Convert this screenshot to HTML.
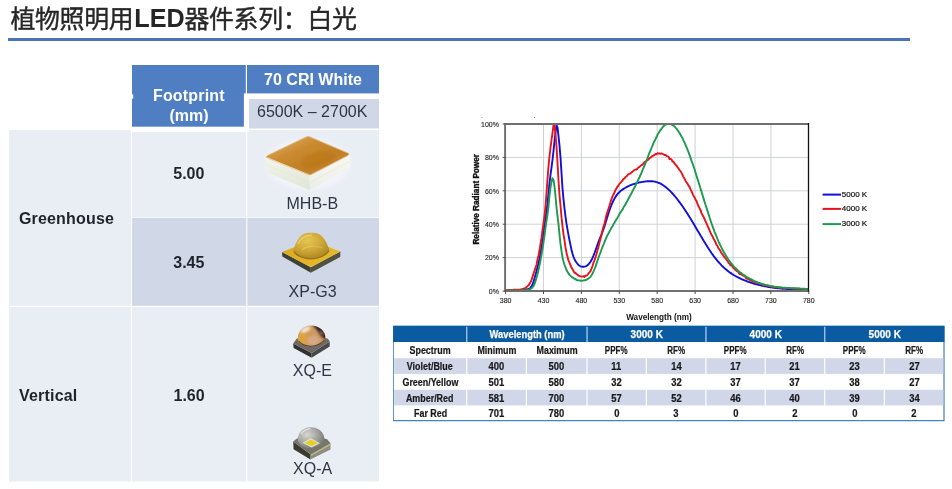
<!DOCTYPE html>
<html><head><meta charset="utf-8"><title>slide</title>
<style>
html,body{margin:0;padding:0;background:#fff;}
body{width:952px;height:489px;position:relative;overflow:hidden;font-family:"Liberation Sans",sans-serif;}
.abs{position:absolute;}
.led{font-weight:bold;font-size:25.2px;line-height:1;color:#262626;white-space:nowrap;}
.t{position:absolute;white-space:nowrap;font-size:16px;line-height:1;}
.b{font-weight:bold;}
.ls{letter-spacing:0.19px;}
.w{color:#fff;}
.k{color:#1f232c;}
.g{color:#2f3643;}
.dc{text-align:center;white-space:nowrap;font-weight:bold;}
.dc span{display:inline-block;transform-origin:50% 50%;}
.dh{color:#fff;font-size:11px;-webkit-text-stroke:0.25px #fff;}

.db{color:#1a1a1a;font-size:10px;-webkit-text-stroke:0.22px #1a1a1a;}

#wrap{position:absolute;left:0;top:0;width:952px;height:489px;will-change:transform;}
</style></head><body><div id="wrap">
<svg class="abs" style="left:0;top:0" width="952" height="50" viewBox="0 0 952 50"><g fill="#262626" stroke="#262626" stroke-width="0.4" stroke-linejoin="round" font-family="'Liberation Sans', 'Noto Sans CJK SC', sans-serif" font-size="24.9"><text x="10.4" y="28" textLength="123.25" lengthAdjust="spacing">植物照明用</text><text x="184.4" y="28" textLength="172.55" lengthAdjust="spacing">器件系列：白光</text></g></svg>
<div class="abs led" style="left:134.3px;top:6.3px;">LED</div>
<div class="abs" style="left:8px;top:38px;width:902px;height:3px;background:#4a75b8"></div>
<svg class="abs" style="left:0;top:0" width="400" height="489" viewBox="0 0 400 489"><rect x="132" y="65" width="111.90" height="61.70" fill="#4f7fc2"/><rect x="132" y="65" width="113.80" height="28.40" fill="#4f7fc2"/><rect x="247" y="65" width="132.00" height="28.40" fill="#4f7fc2"/><rect x="249.1" y="99" width="129.90" height="29.50" fill="#d0d8e8"/><rect x="9" y="130.1" width="121.90" height="175.70" fill="#e9edf4"/><rect x="132.1" y="132.0" width="114.10" height="85.00" fill="#e9edf4"/><rect x="247.3" y="130.1" width="131.70" height="86.90" fill="#e9edf4"/><rect x="247.2" y="130.0" width="1.80" height="2.00" fill="#fff"/><rect x="132.1" y="217.8" width="114.10" height="88.00" fill="#d0d8e8"/><rect x="247.3" y="217.8" width="131.70" height="88.00" fill="#d0d8e8"/><rect x="9" y="307.1" width="121.90" height="174.40" fill="#e9edf4"/><rect x="132.1" y="307.1" width="114.10" height="174.40" fill="#e9edf4"/><rect x="247.3" y="307.1" width="131.70" height="174.40" fill="#e9edf4"/><rect x="131.5" y="94.4" width="1.70" height="4.30" fill="#fff"/></svg>
<div class="t b w ls" style="left:188.9px;top:88px;transform:translateX(-50%)">Footprint</div><div class="t b w" style="left:189.0px;top:108px;transform:translateX(-50%)">(mm)</div><div class="t b w" style="left:313.0px;top:72px;transform:translateX(-50%)">70 CRI White</div><div class="t g" style="left:312.2px;top:104px;transform:translateX(-50%)">6500K – 2700K</div><div class="t b k ls" style="left:18.9px;top:211px">Greenhouse</div><div class="t b k ls" style="left:19.0px;top:388px">Vertical</div><div class="t b k" style="left:188.8px;top:166px;transform:translateX(-50%)">5.00</div><div class="t b k" style="left:188.8px;top:255px;transform:translateX(-50%)">3.45</div><div class="t b k" style="left:189.1px;top:388px;transform:translateX(-50%)">1.60</div><div class="t g" style="left:312.3px;top:196px;transform:translateX(-50%)">MHB-B</div><div class="t g" style="left:312.6px;top:284px;transform:translateX(-50%)">XP-G3</div><div class="t g" style="left:312.4px;top:363px;transform:translateX(-50%)">XQ-E</div><div class="t g" style="left:312.6px;top:461px;transform:translateX(-50%)">XQ-A</div>
<svg class="abs" style="left:247px;top:130px" width="132" height="352" viewBox="247 130 132 352">
<defs>
<filter id="bl" x="-10%" y="-10%" width="120%" height="120%"><feGaussianBlur stdDeviation="0.5"/></filter>
<filter id="bl1" x="-30%" y="-30%" width="160%" height="160%"><feGaussianBlur stdDeviation="0.9"/></filter>
<filter id="bl2" x="-30%" y="-30%" width="160%" height="160%"><feGaussianBlur stdDeviation="3"/></filter>
<linearGradient id="mtop" x1="0.1" y1="0.1" x2="0.9" y2="0.9"><stop offset="0" stop-color="#dcab62"/><stop offset="0.35" stop-color="#ca8a30"/><stop offset="0.7" stop-color="#c07e24"/><stop offset="1" stop-color="#cc9240"/></linearGradient>
<linearGradient id="mleft" x1="0" y1="0" x2="0.2" y2="1"><stop offset="0" stop-color="#f3f5ec"/><stop offset="1" stop-color="#e2e8d8"/></linearGradient>
<linearGradient id="mright" x1="0" y1="0" x2="0" y2="1"><stop offset="0" stop-color="#f7f8f3"/><stop offset="1" stop-color="#ecefe6"/></linearGradient>
<radialGradient id="xpd" cx="0.4" cy="0.3" r="0.8"><stop offset="0" stop-color="#e4c654"/><stop offset="0.5" stop-color="#cfa634"/><stop offset="1" stop-color="#a27e22"/></radialGradient>
<linearGradient id="xpb" x1="0" y1="0" x2="1" y2="0.6"><stop offset="0" stop-color="#d9a520"/><stop offset="1" stop-color="#e9ba2c"/></linearGradient>
<radialGradient id="xqe" cx="0.28" cy="0.5" r="0.8"><stop offset="0" stop-color="#dba348"/><stop offset="0.4" stop-color="#cd9c72"/><stop offset="0.7" stop-color="#94705c"/><stop offset="1" stop-color="#3e2c2c"/></radialGradient>
<radialGradient id="xqa" cx="0.35" cy="0.35" r="0.8"><stop offset="0" stop-color="#d6d6d3"/><stop offset="0.5" stop-color="#a3a39f"/><stop offset="1" stop-color="#686862"/></radialGradient>
</defs>
<!-- MHB-B -->
<ellipse cx="308" cy="164" rx="42" ry="26" fill="#fff" opacity="0.38" filter="url(#bl2)"/>
<g filter="url(#bl)">
<path d="M266,157.5 L309.5,175.2 L310.2,189.9 Q309,190.2 307,189 L267.6,172.8 Q266.6,172.3 266.5,171Z" fill="url(#mleft)"/>
<path d="M309.5,175.2 L349.7,154.4 L350,166 Q350,167.2 349,167.8 L310.2,189.9Z" fill="url(#mright)"/>
<path d="M266.6,165 L309.8,182.6 L349.8,161.2" fill="none" stroke="#dde3d3" stroke-width="0.8" opacity="0.6"/>
<path d="M306.5,136.8 Q308,136 309.6,136.7 L347.6,152.9 Q350.4,154.1 347.8,155.6 L311.4,174.4 Q309.5,175.3 307.6,174.5 L267.8,158.1 Q264.8,156.8 267.6,155.4Z" fill="url(#mtop)" stroke="#e2bb86" stroke-width="0.9" stroke-linejoin="round"/>
<ellipse cx="318" cy="160" rx="17" ry="8" transform="rotate(-14 318 160)" fill="#b87418" opacity="0.45" filter="url(#bl1)"/>
<path d="M267.5,157.8 L308.5,174.6" fill="none" stroke="#efd9b8" stroke-width="1" opacity="0.85"/>
</g>
<!-- XP-G3 -->
<g filter="url(#bl)">
<polygon points="282,252 310.8,267.2 310.8,272.8 282.3,256.5" fill="#3e4234"/>
<polygon points="310.8,267.2 340.4,251.4 340.2,257 310.8,272.8" fill="#50533f"/>
<polygon points="282,252 312,240.5 340.4,251.4 310.8,267.2" fill="url(#xpb)"/>
<path d="M293.2,251.5 C295,244 299,233.4 308,232.8 L314.5,232.8 C323,233.4 327.5,244 329.4,250.3 C326,256 318,259 312,258.8 C304,258.8 296,256 293.2,251.5Z" fill="url(#xpd)"/>
<path d="M294.0,252.0 C298,257 306,259 312,258.8 C319,258.8 326,255.4 328.9,250.8" fill="none" stroke="#8a6a1a" stroke-width="1.3" opacity="0.8"/>
<path d="M298,244 C300,238 306,235 312,235.2" fill="none" stroke="#f0dc8c" stroke-width="1.4" opacity="0.6"/>
<path d="M302,250 C306,246 316,245 322,248" fill="none" stroke="#ecd680" stroke-width="1.2" opacity="0.45"/>
</g>
<!-- XQ-E -->
<g filter="url(#bl)">
<polygon points="293.2,343.6 311.6,353.1 311.6,357.8 293.6,347.9" fill="#333232"/>
<polygon points="311.6,353.1 329.7,341.5 329.7,346.6 311.6,357.8" fill="#4a4948"/>
<polygon points="293.2,343.6 296.6,338.8 311,334 328,338.8 329.7,341.5 311.6,353.1" fill="#6e6964"/>
<clipPath id="xqec"><path d="M297.9,340.5 C297,332 303,325.6 310.8,325.6 C319,325.6 326,331 325.4,339 C323,344 317,346.8 311,346.6 C305,346.6 299.5,344.5 297.9,340.5Z"/></clipPath>
<path d="M297.9,340.5 C297,332 303,325.6 310.8,325.6 C319,325.6 326,331 325.4,339 C323,344 317,346.8 311,346.6 C305,346.6 299.5,344.5 297.9,340.5Z" fill="#cf9a60"/>
<g clip-path="url(#xqec)">
<ellipse cx="302.5" cy="338" rx="5" ry="6" fill="#dea23c" filter="url(#bl1)"/>
<ellipse cx="313" cy="340.5" rx="6" ry="4.5" fill="#d6a888" filter="url(#bl1)"/>
<path d="M312,324 L328,326 L328,341 C324,338.5 321,337 319.5,334 C318,331 315,328.5 312,324Z" fill="#3a2828" filter="url(#bl1)"/>
<ellipse cx="305.5" cy="329.5" rx="5.2" ry="2.6" transform="rotate(-28 305.5 329.5)" fill="#efe4cf" filter="url(#bl1)"/>
<path d="M320,331.5 L323,334.5" stroke="#b89a8c" stroke-width="1.2" filter="url(#bl1)"/>
</g>
<path d="M298.6,341.2 C302,345 307,346.3 311,346.2 C316,346.2 321,344 324.4,340.2" fill="none" stroke="#33282a" stroke-width="1.1" opacity="0.75"/>
</g>
<!-- XQ-A -->
<g filter="url(#bl)">
<polygon points="293.2,441.5 310.8,454.4 310.4,459.5 293.6,449.2" fill="#3a3a30"/>
<polygon points="310.8,454.4 330.5,443.2 330.5,449.6 310.4,459.5" fill="#8d8d85"/>
<polygon points="310.8,454.4 330.5,443.2 330.5,444.9 310.8,456.1" fill="#c4bd72"/>
<polygon points="293.2,441.5 297,438.6 311,435 327.1,439.2 330.5,443.2 310.8,454.4" fill="#74746e"/>
<path d="M297.9,441 C297,433.5 303,427.3 310.8,427.3 C319,427.3 325,433 324.5,440.5 C322,445.5 316.5,448.6 311,448.4 C305,448.4 299.5,445.5 297.9,441Z" fill="url(#xqa)"/>
<polygon points="302.5,442.8 310.8,438.3 320,443.2 311.6,447.4" fill="#ecece4" opacity="0.85"/>
<polygon points="304.4,442.8 310.8,439.6 318,443.2 311.6,446" fill="#e6cf22"/>
<path d="M301,434 C303.5,430.5 307,428.8 310.5,428.6" fill="none" stroke="#ececea" stroke-width="1.3" opacity="0.8"/>
</g>
</svg>
<svg class="abs" style="left:0;top:0" width="952" height="330" viewBox="0 0 952 330"><line x1="543.5" y1="124.0" x2="543.5" y2="291.0" stroke="#cbcdd3" stroke-width="0.9"/><line x1="581.4" y1="124.0" x2="581.4" y2="291.0" stroke="#cbcdd3" stroke-width="0.9"/><line x1="619.3" y1="124.0" x2="619.3" y2="291.0" stroke="#cbcdd3" stroke-width="0.9"/><line x1="657.2" y1="124.0" x2="657.2" y2="291.0" stroke="#cbcdd3" stroke-width="0.9"/><line x1="695.1" y1="124.0" x2="695.1" y2="291.0" stroke="#cbcdd3" stroke-width="0.9"/><line x1="733.0" y1="124.0" x2="733.0" y2="291.0" stroke="#cbcdd3" stroke-width="0.9"/><line x1="770.9" y1="124.0" x2="770.9" y2="291.0" stroke="#cbcdd3" stroke-width="0.9"/><line x1="505.6" y1="257.6" x2="808.8" y2="257.6" stroke="#cbcdd3" stroke-width="0.9"/><line x1="505.6" y1="224.2" x2="808.8" y2="224.2" stroke="#cbcdd3" stroke-width="0.9"/><line x1="505.6" y1="190.8" x2="808.8" y2="190.8" stroke="#cbcdd3" stroke-width="0.9"/><line x1="505.6" y1="157.4" x2="808.8" y2="157.4" stroke="#cbcdd3" stroke-width="0.9"/><clipPath id="pc"><rect x="505.6" y="123.0" width="303.19999999999993" height="169.0"/></clipPath><g clip-path="url(#pc)" fill="none" stroke-width="1.9" stroke-linejoin="round" stroke-linecap="round"><path d="M505.5,290.3 L506.5,290.3 L507.5,290.3 L508.5,290.3 L509.5,290.3 L510.5,290.3 L511.5,290.3 L512.5,290.2 L513.5,290.2 L514.5,290.2 L515.5,290.2 L516.5,290.2 L517.5,290.2 L518.5,290.1 L519.5,290.1 L520.5,290.1 L521.5,290.0 L522.5,290.0 L523.5,289.9 L524.5,289.8 L525.5,289.7 L526.5,289.5 L527.5,289.3 L528.5,289.0 L529.5,288.5 L530.5,287.6 L531.5,286.2 L532.5,284.6 L533.5,281.9 L534.5,278.5 L535.5,274.8 L536.5,271.2 L537.5,267.3 L538.5,263.1 L539.5,258.5 L540.5,253.3 L541.5,247.5 L542.5,241.0 L543.5,233.2 L544.5,225.0 L545.5,218.5 L546.5,212.2 L547.5,203.7 L548.5,193.0 L549.5,183.0 L550.5,174.9 L551.5,167.5 L552.5,159.9 L553.5,150.9 L554.5,141.3 L555.5,132.6 L556.5,125.2 L557.5,127.4 L558.5,136.1 L559.5,145.7 L560.5,157.4 L561.5,172.8 L562.5,188.5 L563.5,199.4 L564.5,208.3 L565.5,216.5 L566.5,223.7 L567.5,229.7 L568.5,235.2 L569.5,240.2 L570.5,245.1 L571.5,249.8 L572.5,253.7 L573.5,256.8 L574.5,259.1 L575.5,261.0 L576.5,262.5 L577.5,263.8 L578.5,264.9 L579.5,265.7 L580.5,266.3 L581.5,266.6 L582.5,266.8 L583.5,266.8 L584.5,266.6 L585.5,266.3 L586.5,265.9 L587.5,265.2 L588.5,264.3 L589.5,263.2 L590.5,261.7 L591.5,260.0 L592.5,258.0 L593.5,255.7 L594.5,253.1 L595.5,250.3 L596.5,247.5 L597.5,244.6 L598.5,241.9 L599.5,239.3 L600.5,236.8 L601.5,234.4 L602.5,231.8 L603.5,229.1 L604.5,226.1 L605.5,222.9 L606.5,219.7 L607.5,216.4 L608.5,213.3 L609.5,210.3 L610.5,207.5 L611.5,204.9 L612.5,202.6 L613.5,200.5 L614.5,198.6 L615.5,196.9 L616.5,195.4 L617.5,194.1 L618.5,193.0 L619.5,192.0 L620.5,191.1 L621.5,190.3 L622.5,189.6 L623.5,188.9 L624.5,188.3 L625.5,187.7 L626.5,187.1 L627.5,186.6 L628.5,186.1 L629.5,185.7 L630.5,185.2 L631.5,184.8 L632.5,184.4 L633.5,184.1 L634.5,183.8 L635.5,183.5 L636.5,183.2 L637.5,182.9 L638.5,182.7 L639.5,182.4 L640.5,182.2 L641.5,182.1 L642.5,181.9 L643.5,181.7 L644.5,181.6 L645.5,181.5 L646.5,181.4 L647.5,181.3 L648.5,181.2 L649.5,181.2 L650.5,181.2 L651.5,181.2 L652.5,181.3 L653.5,181.4 L654.5,181.6 L655.5,181.8 L656.5,182.1 L657.5,182.4 L658.5,182.8 L659.5,183.2 L660.5,183.7 L661.5,184.2 L662.5,184.8 L663.5,185.5 L664.5,186.2 L665.5,186.9 L666.5,187.7 L667.5,188.6 L668.5,189.5 L669.5,190.4 L670.5,191.4 L671.5,192.4 L672.5,193.5 L673.5,194.6 L674.5,195.8 L675.5,197.0 L676.5,198.2 L677.5,199.5 L678.5,200.8 L679.5,202.1 L680.5,203.5 L681.5,204.9 L682.5,206.3 L683.5,207.7 L684.5,209.2 L685.5,210.7 L686.5,212.3 L687.5,213.8 L688.5,215.4 L689.5,217.0 L690.5,218.6 L691.5,220.3 L692.5,221.9 L693.5,223.6 L694.5,225.3 L695.5,227.0 L696.5,228.7 L697.5,230.4 L698.5,232.1 L699.5,233.7 L700.5,235.4 L701.5,237.1 L702.5,238.8 L703.5,240.5 L704.5,242.1 L705.5,243.7 L706.5,245.3 L707.5,246.9 L708.5,248.5 L709.5,250.0 L710.5,251.5 L711.5,253.0 L712.5,254.4 L713.5,255.8 L714.5,257.1 L715.5,258.4 L716.5,259.7 L717.5,260.9 L718.5,262.0 L719.5,263.1 L720.5,264.2 L721.5,265.3 L722.5,266.3 L723.5,267.2 L724.5,268.1 L725.5,269.0 L726.5,269.8 L727.5,270.7 L728.5,271.4 L729.5,272.2 L730.5,272.9 L731.5,273.6 L732.5,274.2 L733.5,274.9 L734.5,275.5 L735.5,276.0 L736.5,276.6 L737.5,277.1 L738.5,277.6 L739.5,278.1 L740.5,278.6 L741.5,279.1 L742.5,279.5 L743.5,279.9 L744.5,280.3 L745.5,280.7 L746.5,281.1 L747.5,281.5 L748.5,281.8 L749.5,282.2 L750.5,282.5 L751.5,282.8 L752.5,283.2 L753.5,283.5 L754.5,283.8 L755.5,284.0 L756.5,284.3 L757.5,284.6 L758.5,284.8 L759.5,285.1 L760.5,285.3 L761.5,285.6 L762.5,285.8 L763.5,286.0 L764.5,286.2 L765.5,286.4 L766.5,286.6 L767.5,286.8 L768.5,287.0 L769.5,287.1 L770.5,287.3 L771.5,287.4 L772.5,287.6 L773.5,287.7 L774.5,287.9 L775.5,288.0 L776.5,288.1 L777.5,288.2 L778.5,288.3 L779.5,288.4 L780.5,288.5 L781.5,288.6 L782.5,288.7 L783.5,288.8 L784.5,288.9 L785.5,288.9 L786.5,289.0 L787.5,289.1 L788.5,289.1 L789.5,289.2 L790.5,289.2 L791.5,289.3 L792.5,289.3 L793.5,289.3 L794.5,289.4 L795.5,289.4 L796.5,289.4 L797.5,289.5 L798.5,289.5 L799.5,289.5 L800.5,289.5 L801.5,289.6 L802.5,289.6 L803.5,289.6 L804.5,289.6 L805.5,289.6 L806.5,289.6 L807.5,289.6 L808.5,289.6" stroke="#1010d8"/><path d="M505.5,290.0 L506.5,290.0 L507.5,290.0 L508.5,290.0 L509.5,289.9 L510.5,289.9 L511.5,289.9 L512.5,289.9 L513.5,289.8 L514.5,289.8 L515.5,289.8 L516.5,289.8 L517.5,289.7 L518.5,289.7 L519.5,289.6 L520.5,289.5 L521.5,289.3 L522.5,289.1 L523.5,288.7 L524.5,288.3 L525.5,287.8 L526.5,287.1 L527.5,286.3 L528.5,285.4 L529.5,283.9 L530.5,282.2 L531.5,280.1 L532.5,276.9 L533.5,273.6 L534.5,270.8 L535.5,267.8 L536.5,264.7 L537.5,259.6 L538.5,255.5 L539.5,250.3 L540.5,243.9 L541.5,237.9 L542.5,230.2 L543.5,223.2 L544.5,215.8 L545.5,206.2 L546.5,193.0 L547.5,179.1 L548.5,166.4 L549.5,156.3 L550.5,147.7 L551.5,140.2 L552.5,133.1 L553.5,124.9 L554.5,125.7 L555.5,134.4 L556.5,146.5 L557.5,162.7 L558.5,180.5 L559.5,195.3 L560.5,205.3 L561.5,217.2 L562.5,226.2 L563.5,234.3 L564.5,240.3 L565.5,247.4 L566.5,252.9 L567.5,256.7 L568.5,260.7 L569.5,262.7 L570.5,265.5 L571.5,267.6 L572.5,269.0 L573.5,271.0 L574.5,272.8 L575.5,272.7 L576.5,274.2 L577.5,274.5 L578.5,275.8 L579.5,275.9 L580.5,276.3 L581.5,276.6 L582.5,276.6 L583.5,276.1 L584.5,276.9 L585.5,275.6 L586.5,275.6 L587.5,275.0 L588.5,273.4 L589.5,272.4 L590.5,271.1 L591.5,268.7 L592.5,266.0 L593.5,262.7 L594.5,260.4 L595.5,257.4 L596.5,254.0 L597.5,250.2 L598.5,246.9 L599.5,242.6 L600.5,238.7 L601.5,234.9 L602.5,230.2 L603.5,226.5 L604.5,223.5 L605.5,219.3 L606.5,214.9 L607.5,211.8 L608.5,208.7 L609.5,205.6 L610.5,202.2 L611.5,199.1 L612.5,196.4 L613.5,194.5 L614.5,192.3 L615.5,190.0 L616.5,188.3 L617.5,186.6 L618.5,185.5 L619.5,183.6 L620.5,182.7 L621.5,181.7 L622.5,180.4 L623.5,178.9 L624.5,178.6 L625.5,177.0 L626.5,176.5 L627.5,175.2 L628.5,174.0 L629.5,173.9 L630.5,173.2 L631.5,172.4 L632.5,171.8 L633.5,170.7 L634.5,170.0 L635.5,169.5 L636.5,169.6 L637.5,168.5 L638.5,167.3 L639.5,167.0 L640.5,165.8 L641.5,165.1 L642.5,164.7 L643.5,163.4 L644.5,162.1 L645.5,161.5 L646.5,160.9 L647.5,160.1 L648.5,159.6 L649.5,158.0 L650.5,157.7 L651.5,156.8 L652.5,155.9 L653.5,155.6 L654.5,154.9 L655.5,154.0 L656.5,154.3 L657.5,153.3 L658.5,153.5 L659.5,153.5 L660.5,153.7 L661.5,153.4 L662.5,153.9 L663.5,154.2 L664.5,155.0 L665.5,154.9 L666.5,155.8 L667.5,156.3 L668.5,156.7 L669.5,159.0 L670.5,158.9 L671.5,159.4 L672.5,161.5 L673.5,161.7 L674.5,163.4 L675.5,164.8 L676.5,165.6 L677.5,167.1 L678.5,168.5 L679.5,170.1 L680.5,171.1 L681.5,172.9 L682.5,174.9 L683.5,177.0 L684.5,178.6 L685.5,180.7 L686.5,182.2 L687.5,183.6 L688.5,185.6 L689.5,186.9 L690.5,189.2 L691.5,191.1 L692.5,193.6 L693.5,195.7 L694.5,197.3 L695.5,199.4 L696.5,201.1 L697.5,203.8 L698.5,206.0 L699.5,208.2 L700.5,209.9 L701.5,213.1 L702.5,215.0 L703.5,216.7 L704.5,218.8 L705.5,221.1 L706.5,223.4 L707.5,225.6 L708.5,228.0 L709.5,230.2 L710.5,232.6 L711.5,234.7 L712.5,236.3 L713.5,238.5 L714.5,240.3 L715.5,242.2 L716.5,244.9 L717.5,245.9 L718.5,248.5 L719.5,249.4 L720.5,251.3 L721.5,253.1 L722.5,254.3 L723.5,255.9 L724.5,257.1 L725.5,258.4 L726.5,259.8 L727.5,260.9 L728.5,262.9 L729.5,263.5 L730.5,265.3 L731.5,264.8 L732.5,266.8 L733.5,268.0 L734.5,268.7 L735.5,270.1 L736.5,270.8 L737.5,271.3 L738.5,272.4 L739.5,274.0 L740.5,273.9 L741.5,274.6 L742.5,275.1 L743.5,275.9 L744.5,276.1 L745.5,277.1 L746.5,278.6 L747.5,278.7 L748.5,279.1 L749.5,279.8 L750.5,280.6 L751.5,280.6 L752.5,281.6 L753.5,281.7 L754.5,281.8 L755.5,282.8 L756.5,281.7 L757.5,282.7 L758.5,283.4 L759.5,283.3 L760.5,283.9 L761.5,284.0 L762.5,284.3 L763.5,285.8 L764.5,285.1 L765.5,285.3 L766.5,285.6 L767.5,285.8 L768.5,286.0 L769.5,286.2 L770.5,286.4 L771.5,286.6 L772.5,286.7 L773.5,286.9 L774.5,287.0 L775.5,287.2 L776.5,287.3 L777.5,287.4 L778.5,287.5 L779.5,287.6 L780.5,287.7 L781.5,287.8 L782.5,287.9 L783.5,288.0 L784.5,288.1 L785.5,288.1 L786.5,288.2 L787.5,288.2 L788.5,288.3 L789.5,288.4 L790.5,288.4 L791.5,288.4 L792.5,288.5 L793.5,288.5 L794.5,288.6 L795.5,288.6 L796.5,288.7 L797.5,288.7 L798.5,288.8 L799.5,288.8 L800.5,288.9 L801.5,288.9 L802.5,289.0 L803.5,289.0 L804.5,289.1 L805.5,289.2 L806.5,289.3 L807.5,289.3 L808.5,289.4" stroke="#e8141c"/><path d="M505.5,290.5 L506.5,290.5 L507.5,290.5 L508.5,290.5 L509.5,290.5 L510.5,290.5 L511.5,290.5 L512.5,290.5 L513.5,290.5 L514.5,290.4 L515.5,290.4 L516.5,290.4 L517.5,290.4 L518.5,290.4 L519.5,290.4 L520.5,290.4 L521.5,290.3 L522.5,290.3 L523.5,290.3 L524.5,290.2 L525.5,290.2 L526.5,290.1 L527.5,289.9 L528.5,289.7 L529.5,289.4 L530.5,289.0 L531.5,288.3 L532.5,287.3 L533.5,286.0 L534.5,284.0 L535.5,281.3 L536.5,277.6 L537.5,274.0 L538.5,269.9 L539.5,265.3 L540.5,260.2 L541.5,254.8 L542.5,249.0 L543.5,242.3 L544.5,235.6 L545.5,227.9 L546.5,220.9 L547.5,214.5 L548.5,206.4 L549.5,195.6 L550.5,187.5 L551.5,181.7 L552.5,178.1 L553.5,180.2 L554.5,186.4 L555.5,196.2 L556.5,207.1 L557.5,215.8 L558.5,224.2 L559.5,234.3 L560.5,243.8 L561.5,251.1 L562.5,257.4 L563.5,261.4 L564.5,264.8 L565.5,267.4 L566.5,270.0 L567.5,271.8 L568.5,273.4 L569.5,274.9 L570.5,275.9 L571.5,276.9 L572.5,277.5 L573.5,277.8 L574.5,278.9 L575.5,279.0 L576.5,280.0 L577.5,280.4 L578.5,280.4 L579.5,280.5 L580.5,280.5 L581.5,280.9 L582.5,280.7 L583.5,280.4 L584.5,280.2 L585.5,280.3 L586.5,279.6 L587.5,279.1 L588.5,278.5 L589.5,277.8 L590.5,276.8 L591.5,275.2 L592.5,273.5 L593.5,271.4 L594.5,269.0 L595.5,266.6 L596.5,263.6 L597.5,260.8 L598.5,257.8 L599.5,255.0 L600.5,252.4 L601.5,249.5 L602.5,246.9 L603.5,244.5 L604.5,242.0 L605.5,239.7 L606.5,237.4 L607.5,235.1 L608.5,233.4 L609.5,231.5 L610.5,229.7 L611.5,227.6 L612.5,226.4 L613.5,224.1 L614.5,222.7 L615.5,220.9 L616.5,219.2 L617.5,217.7 L618.5,215.9 L619.5,213.9 L620.5,212.4 L621.5,211.0 L622.5,209.6 L623.5,207.3 L624.5,205.9 L625.5,204.4 L626.5,202.5 L627.5,200.6 L628.5,198.7 L629.5,196.8 L630.5,195.1 L631.5,193.3 L632.5,191.1 L633.5,189.3 L634.5,187.6 L635.5,185.5 L636.5,183.4 L637.5,181.3 L638.5,179.1 L639.5,177.2 L640.5,175.0 L641.5,172.8 L642.5,170.2 L643.5,167.8 L644.5,165.5 L645.5,163.1 L646.5,160.5 L647.5,158.0 L648.5,155.2 L649.5,152.6 L650.5,150.5 L651.5,148.0 L652.5,145.6 L653.5,143.2 L654.5,140.9 L655.5,139.2 L656.5,137.0 L657.5,134.8 L658.5,133.3 L659.5,131.6 L660.5,130.0 L661.5,128.9 L662.5,127.3 L663.5,126.1 L664.5,125.4 L665.5,124.6 L666.5,124.3 L667.5,124.0 L668.5,123.8 L669.5,123.8 L670.5,124.1 L671.5,124.4 L672.5,125.1 L673.5,125.6 L674.5,126.4 L675.5,127.6 L676.5,128.6 L677.5,130.2 L678.5,131.5 L679.5,133.0 L680.5,134.7 L681.5,136.5 L682.5,138.0 L683.5,140.6 L684.5,142.5 L685.5,145.0 L686.5,147.1 L687.5,149.7 L688.5,152.2 L689.5,154.8 L690.5,157.6 L691.5,160.6 L692.5,163.3 L693.5,166.2 L694.5,169.3 L695.5,172.5 L696.5,175.8 L697.5,178.9 L698.5,182.0 L699.5,185.1 L700.5,188.6 L701.5,191.7 L702.5,194.9 L703.5,198.4 L704.5,201.6 L705.5,204.8 L706.5,207.7 L707.5,210.9 L708.5,213.9 L709.5,217.2 L710.5,220.2 L711.5,223.3 L712.5,226.1 L713.5,228.8 L714.5,231.8 L715.5,234.0 L716.5,236.4 L717.5,239.0 L718.5,241.4 L719.5,243.5 L720.5,245.6 L721.5,247.6 L722.5,249.9 L723.5,251.4 L724.5,253.2 L725.5,255.0 L726.5,256.5 L727.5,258.1 L728.5,259.9 L729.5,261.0 L730.5,262.4 L731.5,263.6 L732.5,264.9 L733.5,266.2 L734.5,267.2 L735.5,268.1 L736.5,269.0 L737.5,270.1 L738.5,271.1 L739.5,271.9 L740.5,272.7 L741.5,273.2 L742.5,274.3 L743.5,274.7 L744.5,275.4 L745.5,276.2 L746.5,276.9 L747.5,277.5 L748.5,277.9 L749.5,278.5 L750.5,279.0 L751.5,279.4 L752.5,280.1 L753.5,280.5 L754.5,281.1 L755.5,281.5 L756.5,282.0 L757.5,282.4 L758.5,282.8 L759.5,283.2 L760.5,283.5 L761.5,283.7 L762.5,284.2 L763.5,284.2 L764.5,284.6 L765.5,285.0 L766.5,285.1 L767.5,285.3 L768.5,285.5 L769.5,285.8 L770.5,286.0 L771.5,286.1 L772.5,286.3 L773.5,286.5 L774.5,286.6 L775.5,286.8 L776.5,286.9 L777.5,287.0 L778.5,287.2 L779.5,287.3 L780.5,287.4 L781.5,287.5 L782.5,287.6 L783.5,287.6 L784.5,287.7 L785.5,287.8 L786.5,287.9 L787.5,287.9 L788.5,288.0 L789.5,288.0 L790.5,288.1 L791.5,288.1 L792.5,288.2 L793.5,288.2 L794.5,288.3 L795.5,288.3 L796.5,288.4 L797.5,288.4 L798.5,288.5 L799.5,288.5 L800.5,288.6 L801.5,288.6 L802.5,288.7 L803.5,288.8 L804.5,288.8 L805.5,288.9 L806.5,289.0 L807.5,289.1 L808.5,289.1" stroke="#1e9a50"/></g><path d="M808.5,124.0 H505.1 V291.0 H808.5" fill="none" stroke="#6f6f6f" stroke-width="1.9" stroke-linejoin="miter"/><line x1="808.5" y1="123.0" x2="808.5" y2="292.0" stroke="#111" stroke-width="1.3"/><line x1="505.6" y1="291.0" x2="505.6" y2="294.0" stroke="#4d4d4d" stroke-width="1"/><line x1="543.5" y1="291.0" x2="543.5" y2="294.0" stroke="#4d4d4d" stroke-width="1"/><line x1="581.4" y1="291.0" x2="581.4" y2="294.0" stroke="#4d4d4d" stroke-width="1"/><line x1="619.3" y1="291.0" x2="619.3" y2="294.0" stroke="#4d4d4d" stroke-width="1"/><line x1="657.2" y1="291.0" x2="657.2" y2="294.0" stroke="#4d4d4d" stroke-width="1"/><line x1="695.1" y1="291.0" x2="695.1" y2="294.0" stroke="#4d4d4d" stroke-width="1"/><line x1="733.0" y1="291.0" x2="733.0" y2="294.0" stroke="#4d4d4d" stroke-width="1"/><line x1="770.9" y1="291.0" x2="770.9" y2="294.0" stroke="#4d4d4d" stroke-width="1"/><line x1="808.8" y1="291.0" x2="808.8" y2="294.0" stroke="#4d4d4d" stroke-width="1"/><line x1="502.6" y1="291.0" x2="505.6" y2="291.0" stroke="#4d4d4d" stroke-width="1"/><line x1="502.6" y1="257.6" x2="505.6" y2="257.6" stroke="#4d4d4d" stroke-width="1"/><line x1="502.6" y1="224.2" x2="505.6" y2="224.2" stroke="#4d4d4d" stroke-width="1"/><line x1="502.6" y1="190.8" x2="505.6" y2="190.8" stroke="#4d4d4d" stroke-width="1"/><line x1="502.6" y1="157.4" x2="505.6" y2="157.4" stroke="#4d4d4d" stroke-width="1"/><line x1="502.6" y1="124.0" x2="505.6" y2="124.0" stroke="#4d4d4d" stroke-width="1"/><g font-family="Liberation Sans, sans-serif" font-size="7" fill="#1c1c1c" stroke="#1c1c1c" stroke-width="0.12"><text x="505.6" y="302.7" text-anchor="middle">380</text><text x="543.5" y="302.7" text-anchor="middle">430</text><text x="581.4" y="302.7" text-anchor="middle">480</text><text x="619.3" y="302.7" text-anchor="middle">530</text><text x="657.2" y="302.7" text-anchor="middle">580</text><text x="695.1" y="302.7" text-anchor="middle">630</text><text x="733.0" y="302.7" text-anchor="middle">680</text><text x="770.9" y="302.7" text-anchor="middle">730</text><text x="808.8" y="302.7" text-anchor="middle">780</text><text transform="translate(499,293.8) scale(0.9,1)" font-size="7.8" text-anchor="end">0%</text><text transform="translate(499,260.4) scale(0.9,1)" font-size="7.8" text-anchor="end">20%</text><text transform="translate(499,227.0) scale(0.9,1)" font-size="7.8" text-anchor="end">40%</text><text transform="translate(499,193.6) scale(0.9,1)" font-size="7.8" text-anchor="end">60%</text><text transform="translate(499,160.2) scale(0.9,1)" font-size="7.8" text-anchor="end">80%</text><text transform="translate(499,126.8) scale(0.9,1)" font-size="7.8" text-anchor="end">100%</text></g><g font-family="Liberation Sans, sans-serif" font-size="8.2" font-weight="bold" fill="#111"><text x="659" y="320.3" text-anchor="middle">Wavelength (nm)</text><text transform="translate(478.9,199.3) rotate(-90)" text-anchor="middle" stroke="#111" stroke-width="0.35">Relative Radiant Power</text></g><line x1="822.6" y1="194.6" x2="841" y2="194.6" stroke="#1010d8" stroke-width="2"/><text x="841.8" y="196.6" font-family="Liberation Sans, sans-serif" font-size="8" fill="#111" stroke="#111" stroke-width="0.2">5000 K</text><line x1="822.6" y1="208.9" x2="841" y2="208.9" stroke="#e8141c" stroke-width="2"/><text x="841.8" y="210.9" font-family="Liberation Sans, sans-serif" font-size="8" fill="#111" stroke="#111" stroke-width="0.2">4000 K</text><line x1="822.6" y1="224.1" x2="841" y2="224.1" stroke="#1e9a50" stroke-width="2"/><text x="841.8" y="226.1" font-family="Liberation Sans, sans-serif" font-size="8" fill="#111" stroke="#111" stroke-width="0.2">3000 K</text><rect x="481.5" y="117" width="1" height="1" fill="#999"/><rect x="534" y="117" width="1" height="1" fill="#999"/></svg>
<svg class="abs" style="left:0;top:0" width="952" height="489" viewBox="0 0 952 489"><rect x="393.20000000000005" y="325.8" width="551.3" height="95.39999999999996" fill="#1d63aa"/><rect x="393.1" y="325.8" width="551.3" height="16.19999999999999" fill="#0a5ba1"/><rect x="393.85" y="342.0" width="549.65" height="78.19999999999997" fill="#fff"/><rect x="466.09999999999997" y="326.7" width="1.3" height="15.299999999999988" fill="#a9c9ea"/><rect x="586.4" y="326.7" width="1.3" height="15.299999999999988" fill="#a9c9ea"/><rect x="705.3" y="326.7" width="1.3" height="15.299999999999988" fill="#a9c9ea"/><rect x="824.1" y="326.7" width="1.3" height="15.299999999999988" fill="#a9c9ea"/><rect x="394.20000000000005" y="358.2" width="71.89999999999996" height="15.699999999999989" fill="#d1d6e8"/><rect x="467.3" y="358.2" width="58.499999999999986" height="15.699999999999989" fill="#d1d6e8"/><rect x="527.0" y="358.2" width="59.40000000000002" height="15.699999999999989" fill="#d1d6e8"/><rect x="587.6" y="358.2" width="58.09999999999995" height="15.699999999999989" fill="#d1d6e8"/><rect x="646.9" y="358.2" width="58.40000000000002" height="15.699999999999989" fill="#d1d6e8"/><rect x="706.5" y="358.2" width="58.100000000000065" height="15.699999999999989" fill="#d1d6e8"/><rect x="765.8000000000001" y="358.2" width="58.3" height="15.699999999999989" fill="#d1d6e8"/><rect x="825.3000000000001" y="358.2" width="58.399999999999906" height="15.699999999999989" fill="#d1d6e8"/><rect x="884.9" y="358.2" width="58.40000000000002" height="15.699999999999989" fill="#d1d6e8"/><rect x="394.20000000000005" y="389.8" width="71.89999999999996" height="15.599999999999966" fill="#d1d6e8"/><rect x="467.3" y="389.8" width="58.499999999999986" height="15.599999999999966" fill="#d1d6e8"/><rect x="527.0" y="389.8" width="59.40000000000002" height="15.599999999999966" fill="#d1d6e8"/><rect x="587.6" y="389.8" width="58.09999999999995" height="15.599999999999966" fill="#d1d6e8"/><rect x="646.9" y="389.8" width="58.40000000000002" height="15.599999999999966" fill="#d1d6e8"/><rect x="706.5" y="389.8" width="58.100000000000065" height="15.599999999999966" fill="#d1d6e8"/><rect x="765.8000000000001" y="389.8" width="58.3" height="15.599999999999966" fill="#d1d6e8"/><rect x="825.3000000000001" y="389.8" width="58.399999999999906" height="15.599999999999966" fill="#d1d6e8"/><rect x="884.9" y="389.8" width="58.40000000000002" height="15.599999999999966" fill="#d1d6e8"/></svg><div class="abs dc dh" style="left:466.7px;top:325.8px;width:120.30000000000001px;height:16.19999999999999px;line-height:16.19999999999999px"><span style="transform:scaleX(0.85)">Wavelength (nm)</span></div><div class="abs dc dh" style="left:587.0px;top:325.8px;width:118.89999999999998px;height:16.19999999999999px;line-height:16.19999999999999px"><span style="transform:scaleX(0.91)">3000 K</span></div><div class="abs dc dh" style="left:705.9px;top:325.8px;width:118.80000000000007px;height:16.19999999999999px;line-height:16.19999999999999px"><span style="transform:scaleX(0.91)">4000 K</span></div><div class="abs dc dh" style="left:824.7px;top:325.8px;width:119.19999999999993px;height:16.19999999999999px;line-height:16.19999999999999px"><span style="transform:scaleX(0.91)">5000 K</span></div><div class="abs dc db" style="left:393.6px;top:343.0px;width:73.09999999999997px;height:16.19999999999999px;line-height:16.19999999999999px"><span style="transform:scaleX(0.89)">Spectrum</span></div><div class="abs dc db" style="left:466.7px;top:343.0px;width:59.69999999999999px;height:16.19999999999999px;line-height:16.19999999999999px"><span style="transform:scaleX(0.89)">Minimum</span></div><div class="abs dc db" style="left:526.4px;top:343.0px;width:60.60000000000002px;height:16.19999999999999px;line-height:16.19999999999999px"><span style="transform:scaleX(0.89)">Maximum</span></div><div class="abs dc db" style="left:587.0px;top:343.0px;width:59.299999999999955px;height:16.19999999999999px;line-height:16.19999999999999px"><span style="transform:scaleX(0.8)">PPF%</span></div><div class="abs dc db" style="left:646.3px;top:343.0px;width:59.60000000000002px;height:16.19999999999999px;line-height:16.19999999999999px"><span style="transform:scaleX(0.8)">RF%</span></div><div class="abs dc db" style="left:705.9px;top:343.0px;width:59.30000000000007px;height:16.19999999999999px;line-height:16.19999999999999px"><span style="transform:scaleX(0.8)">PPF%</span></div><div class="abs dc db" style="left:765.2px;top:343.0px;width:59.5px;height:16.19999999999999px;line-height:16.19999999999999px"><span style="transform:scaleX(0.8)">RF%</span></div><div class="abs dc db" style="left:824.7px;top:343.0px;width:59.59999999999991px;height:16.19999999999999px;line-height:16.19999999999999px"><span style="transform:scaleX(0.8)">PPF%</span></div><div class="abs dc db" style="left:884.3px;top:343.0px;width:59.60000000000002px;height:16.19999999999999px;line-height:16.19999999999999px"><span style="transform:scaleX(0.8)">RF%</span></div><div class="abs dc db" style="left:393.6px;top:359.2px;width:73.09999999999997px;height:15.699999999999989px;line-height:15.699999999999989px"><span style="transform:scaleX(0.89)">Violet/Blue</span></div><div class="abs dc db" style="left:466.7px;top:359.2px;width:59.69999999999999px;height:15.699999999999989px;line-height:15.699999999999989px"><span style="transform:scaleX(0.94)">400</span></div><div class="abs dc db" style="left:526.4px;top:359.2px;width:60.60000000000002px;height:15.699999999999989px;line-height:15.699999999999989px"><span style="transform:scaleX(0.94)">500</span></div><div class="abs dc db" style="left:587.0px;top:359.2px;width:59.299999999999955px;height:15.699999999999989px;line-height:15.699999999999989px"><span style="transform:scaleX(0.94)">11</span></div><div class="abs dc db" style="left:646.3px;top:359.2px;width:59.60000000000002px;height:15.699999999999989px;line-height:15.699999999999989px"><span style="transform:scaleX(0.94)">14</span></div><div class="abs dc db" style="left:705.9px;top:359.2px;width:59.30000000000007px;height:15.699999999999989px;line-height:15.699999999999989px"><span style="transform:scaleX(0.94)">17</span></div><div class="abs dc db" style="left:765.2px;top:359.2px;width:59.5px;height:15.699999999999989px;line-height:15.699999999999989px"><span style="transform:scaleX(0.94)">21</span></div><div class="abs dc db" style="left:824.7px;top:359.2px;width:59.59999999999991px;height:15.699999999999989px;line-height:15.699999999999989px"><span style="transform:scaleX(0.94)">23</span></div><div class="abs dc db" style="left:884.3px;top:359.2px;width:59.60000000000002px;height:15.699999999999989px;line-height:15.699999999999989px"><span style="transform:scaleX(0.94)">27</span></div><div class="abs dc db" style="left:393.6px;top:374.9px;width:73.09999999999997px;height:15.900000000000034px;line-height:15.900000000000034px"><span style="transform:scaleX(0.89)">Green/Yellow</span></div><div class="abs dc db" style="left:466.7px;top:374.9px;width:59.69999999999999px;height:15.900000000000034px;line-height:15.900000000000034px"><span style="transform:scaleX(0.94)">501</span></div><div class="abs dc db" style="left:526.4px;top:374.9px;width:60.60000000000002px;height:15.900000000000034px;line-height:15.900000000000034px"><span style="transform:scaleX(0.94)">580</span></div><div class="abs dc db" style="left:587.0px;top:374.9px;width:59.299999999999955px;height:15.900000000000034px;line-height:15.900000000000034px"><span style="transform:scaleX(0.94)">32</span></div><div class="abs dc db" style="left:646.3px;top:374.9px;width:59.60000000000002px;height:15.900000000000034px;line-height:15.900000000000034px"><span style="transform:scaleX(0.94)">32</span></div><div class="abs dc db" style="left:705.9px;top:374.9px;width:59.30000000000007px;height:15.900000000000034px;line-height:15.900000000000034px"><span style="transform:scaleX(0.94)">37</span></div><div class="abs dc db" style="left:765.2px;top:374.9px;width:59.5px;height:15.900000000000034px;line-height:15.900000000000034px"><span style="transform:scaleX(0.94)">37</span></div><div class="abs dc db" style="left:824.7px;top:374.9px;width:59.59999999999991px;height:15.900000000000034px;line-height:15.900000000000034px"><span style="transform:scaleX(0.94)">38</span></div><div class="abs dc db" style="left:884.3px;top:374.9px;width:59.60000000000002px;height:15.900000000000034px;line-height:15.900000000000034px"><span style="transform:scaleX(0.94)">27</span></div><div class="abs dc db" style="left:393.6px;top:390.8px;width:73.09999999999997px;height:15.599999999999966px;line-height:15.599999999999966px"><span style="transform:scaleX(0.89)">Amber/Red</span></div><div class="abs dc db" style="left:466.7px;top:390.8px;width:59.69999999999999px;height:15.599999999999966px;line-height:15.599999999999966px"><span style="transform:scaleX(0.94)">581</span></div><div class="abs dc db" style="left:526.4px;top:390.8px;width:60.60000000000002px;height:15.599999999999966px;line-height:15.599999999999966px"><span style="transform:scaleX(0.94)">700</span></div><div class="abs dc db" style="left:587.0px;top:390.8px;width:59.299999999999955px;height:15.599999999999966px;line-height:15.599999999999966px"><span style="transform:scaleX(0.94)">57</span></div><div class="abs dc db" style="left:646.3px;top:390.8px;width:59.60000000000002px;height:15.599999999999966px;line-height:15.599999999999966px"><span style="transform:scaleX(0.94)">52</span></div><div class="abs dc db" style="left:705.9px;top:390.8px;width:59.30000000000007px;height:15.599999999999966px;line-height:15.599999999999966px"><span style="transform:scaleX(0.94)">46</span></div><div class="abs dc db" style="left:765.2px;top:390.8px;width:59.5px;height:15.599999999999966px;line-height:15.599999999999966px"><span style="transform:scaleX(0.94)">40</span></div><div class="abs dc db" style="left:824.7px;top:390.8px;width:59.59999999999991px;height:15.599999999999966px;line-height:15.599999999999966px"><span style="transform:scaleX(0.94)">39</span></div><div class="abs dc db" style="left:884.3px;top:390.8px;width:59.60000000000002px;height:15.599999999999966px;line-height:15.599999999999966px"><span style="transform:scaleX(0.94)">34</span></div><div class="abs dc db" style="left:393.6px;top:406.4px;width:73.09999999999997px;height:15.0px;line-height:15.0px"><span style="transform:scaleX(0.89)">Far Red</span></div><div class="abs dc db" style="left:466.7px;top:406.4px;width:59.69999999999999px;height:15.0px;line-height:15.0px"><span style="transform:scaleX(0.94)">701</span></div><div class="abs dc db" style="left:526.4px;top:406.4px;width:60.60000000000002px;height:15.0px;line-height:15.0px"><span style="transform:scaleX(0.94)">780</span></div><div class="abs dc db" style="left:587.0px;top:406.4px;width:59.299999999999955px;height:15.0px;line-height:15.0px"><span style="transform:scaleX(0.94)">0</span></div><div class="abs dc db" style="left:646.3px;top:406.4px;width:59.60000000000002px;height:15.0px;line-height:15.0px"><span style="transform:scaleX(0.94)">3</span></div><div class="abs dc db" style="left:705.9px;top:406.4px;width:59.30000000000007px;height:15.0px;line-height:15.0px"><span style="transform:scaleX(0.94)">0</span></div><div class="abs dc db" style="left:765.2px;top:406.4px;width:59.5px;height:15.0px;line-height:15.0px"><span style="transform:scaleX(0.94)">2</span></div><div class="abs dc db" style="left:824.7px;top:406.4px;width:59.59999999999991px;height:15.0px;line-height:15.0px"><span style="transform:scaleX(0.94)">0</span></div><div class="abs dc db" style="left:884.3px;top:406.4px;width:59.60000000000002px;height:15.0px;line-height:15.0px"><span style="transform:scaleX(0.94)">2</span></div>
</div></body></html>
